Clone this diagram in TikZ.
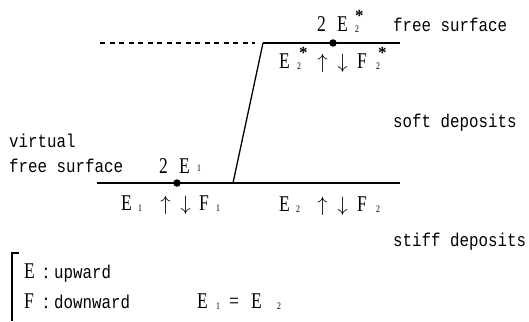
\documentclass[tikz,border=0pt]{standalone}
\usepackage{fontspec}
\setmainfont{Liberation Serif}
\setmonofont{Liberation Mono}
\newfontfamily\cond[FakeStretch=0.78]{Liberation Serif}
\newfontfamily\condmono[FakeStretch=0.85]{Liberation Mono}
\begin{document}
\begin{tikzpicture}[x=1pt,y=-1pt,
  ser/.style={font=\cond\fontsize{22.5}{26}\selectfont, inner sep=0pt, anchor=base west},
  sub/.style={font=\cond\fontsize{10}{10}\selectfont, inner sep=0pt, anchor=base west},
  star/.style={font=\bfseries\fontsize{17}{17}\selectfont, inner sep=0pt, anchor=north west},
  arr/.style={font=\fontsize{22}{26}\selectfont, inner sep=0pt, anchor=base},
  mono/.style={font=\condmono\fontsize{18.6}{21}\selectfont, inner sep=0pt, anchor=base west},
  surf/.style={line width=1.6pt},
  dotn/.style={circle, fill=black, inner sep=0pt, minimum size=7.5pt}]
\useasboundingbox (0,0) rectangle (529,321);
% geometry
\coordinate (tl) at (263,43);
\coordinate (tr) at (400,43);
\coordinate (bl) at (97,183);
\coordinate (bk) at (233,183);
\coordinate (br) at (400,183);
\coordinate (dl) at (100,43);
\coordinate (dr) at (255,43);
\node[dotn] (d2) at (333,43) {};
\node[dotn] (d1) at (177,183) {};
\draw[surf] (bl) -- (br);
\draw[surf] (tl) -- (tr);
\draw[line width=1.3pt] (bk) -- (tl);
\draw[line width=1.4pt, dash pattern=on 5pt off 4.5pt] (dl) -- (dr);
% top: 2 E*_2
\node[ser] (t2) at (317,32) {2};
\node[ser] (tE) at (337,32) {E};
\node[star] (tEs) at (355,10) {*};
\node[sub] (tEn) at (355,33) {2};
% top lower: E*_2 up down F*_2
\node[ser] (uE) at (279,68) {E};
\node[star] (uEs) at (299,47) {*};
\node[sub] (uEn) at (297,69) {2};
\node[arr] (uu) at (322.5,68) {$\uparrow$};
\node[arr] (ud) at (342.5,68) {$\downarrow$};
\node[ser] (uF) at (357,68) {F};
\node[star] (uFs) at (378,47) {*};
\node[sub] (uFn) at (376,69) {2};
% bottom: 2 E_1
\node[ser] (b2) at (159,173) {2};
\node[ser] (bE) at (179,173) {E};
\node[sub] (bEn) at (197,171) {1};
% bottom left lower
\node[ser] (lE) at (121,210) {E};
\node[sub] (lEn) at (138,211) {1};
\node[arr] (lu) at (165.5,210) {$\uparrow$};
\node[arr] (ld) at (185.5,210) {$\downarrow$};
\node[ser] (lF) at (199,210) {F};
\node[sub] (lFn) at (216,211) {1};
% bottom right lower
\node[ser] (rE) at (279,211) {E};
\node[sub] (rEn) at (296,212) {2};
\node[arr] (ru) at (322.5,211) {$\uparrow$};
\node[arr] (rd) at (342.5,211) {$\downarrow$};
\node[ser] (rF) at (357,211) {F};
\node[sub] (rFn) at (376,212) {2};
% side labels
\node[mono] (fs1) at (393,31) {free surface};
\node[mono] (sd) at (393,127) {soft deposits};
\node[mono] (vt) at (9,147) {virtual};
\node[mono] (fs2) at (9,172) {free surface};
\node[mono] (stf) at (393,246) {stiff deposits};
% legend
\coordinate (bt) at (19,253);
\coordinate (bc) at (12,253);
\coordinate (bb) at (12,321);
\draw[line width=1.3pt] (bt) -- (bc) -- (bb);
\node[ser] (gE) at (24,278) {E};
\node[ser, anchor=base] (gEc) at (46,278) {:};
\node[mono] (gEt) at (54,278) {upward};
\node[ser] (gF) at (24,308) {F};
\node[ser, anchor=base] (gFc) at (46,308) {:};
\node[mono] (gFt) at (54,308) {downward};
\node[ser] (qE1) at (197,308) {E};
\node[sub] (qn1) at (216,309) {1};
\node[ser] (qeq) at (229,308) {=};
\node[ser] (qE2) at (251,308) {E};
\node[sub] (qn2) at (277,309) {2};
\end{tikzpicture}
\end{document}
